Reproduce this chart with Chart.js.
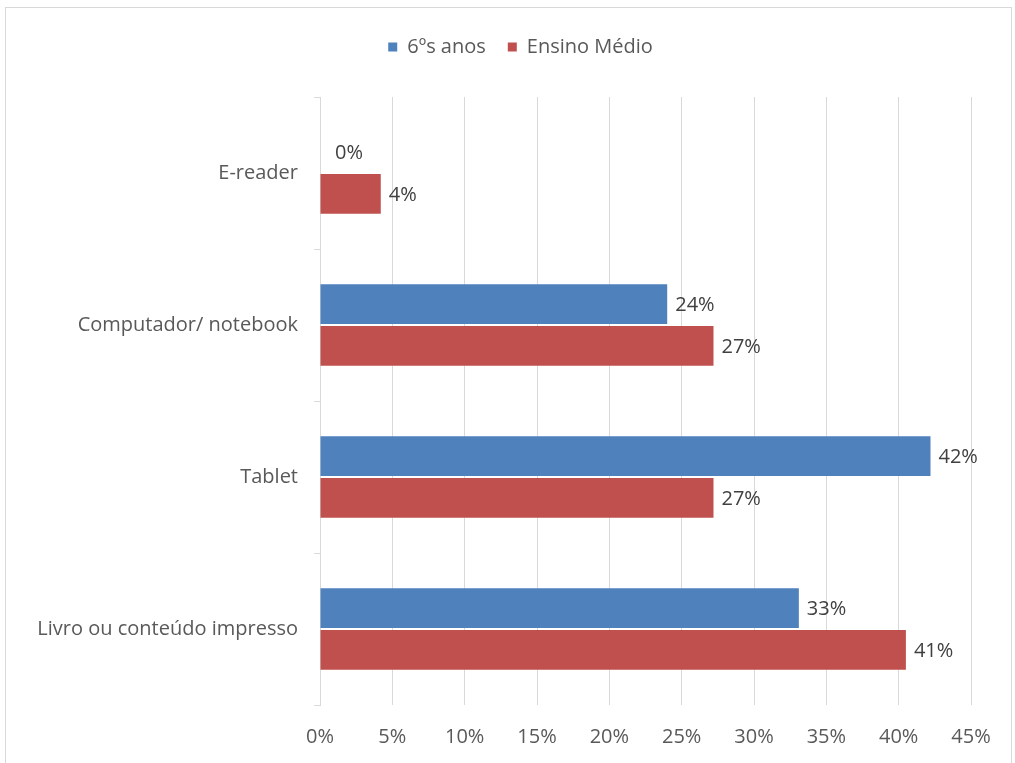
<!doctype html>
<html lang="pt">
  <head>
    <meta charset="utf-8">
    <title>Dispositivos</title>
    <style>
      * { margin: 0; padding: 0; }
      body { background: #fff; }
      .chartBox { position: absolute; left: 0; top: 0; width: 1015px; height: 763px; }
    </style>
  </head>
  <body>
    <div class="chartBox">
      <canvas id="myChart" width="1015" height="763"></canvas>
    </div>
    <script src="https://cdn.jsdelivr.net/npm/chart.js/dist/chart.umd.min.js"></script>
    <script>
    // setup
    const categories = ['E-reader', 'Computador/ notebook', 'Tablet', 'Livro ou conteúdo impresso'];
    const sextoAnos = [0, 24.0, 42.2, 33.1];
    const ensinoMedio = [4.2, 27.2, 27.2, 40.5];
    const xTicks = [0, 5, 10, 15, 20, 25, 30, 35, 40, 45];

    const FONT = "'Open Sans', sans-serif";
    const GREY = '#595959';
    const SIZE = 20;

    // data labels at bar ends
    const barLabels = {
      id: 'barLabels',
      afterDatasetsDraw(chart) {
        const ctx = chart.ctx;
        ctx.save();
        ctx.font = SIZE + 'px ' + FONT;
        ctx.fillStyle = '#404040';
        ctx.textBaseline = 'middle';
        ctx.textAlign = 'left';
        chart.data.datasets.forEach((ds, i) => {
          chart.getDatasetMeta(i).data.forEach((bar, j) => {
            const v = ds.data[j];
            const x = v === 0 ? bar.x + 15 : bar.x + 8;
            ctx.fillText(Math.round(v) + '%', x, bar.y + 1);
          });
        });
        ctx.restore();
      }
    };

    // light frame around the chart
    const frame = {
      id: 'frame',
      beforeDraw(chart) {
        const ctx = chart.ctx;
        ctx.save();
        ctx.strokeStyle = '#D9D9D9';
        ctx.lineWidth = 1;
        ctx.strokeRect(5.5, 7.5, 1006, 800);
        ctx.restore();
      }
    };

    // fixed legend block height, legend nudged right
    const legendHeight = {
      id: 'legendHeight',
      beforeInit(chart) {
        const origFit = chart.legend.fit;
        chart.legend.fit = function () {
          origFit.bind(chart.legend)();
          this.height = 82;
        };
      },
      afterLayout(chart) {
        chart.legend.left += 35;
        chart.legend.right += 35;
      }
    };

    const data = {
      labels: categories,
      datasets: [{
        label: '6ºs anos',
        data: sextoAnos,
        backgroundColor: '#4F81BD'
      }, {
        label: 'Ensino Médio',
        data: ensinoMedio,
        backgroundColor: '#C0504D'
      }]
    };

    // config
    const config = {
      type: 'bar',
      data,
      options: {
        indexAxis: 'y',
        responsive: false,
        animation: false,
        barPercentage: 0.95,
        categoryPercentage: 0.55,
        layout: { padding: { top: 15, right: 44, bottom: 0, left: 0 } },
        plugins: {
          legend: {
            position: 'top',
            labels: {
              font: { family: FONT, size: SIZE },
              color: GREY,
              boxWidth: 9,
              boxHeight: 9,
              padding: 22
            }
          },
          tooltip: { enabled: false }
        },
        scales: {
          x: {
            min: 0,
            max: 45,
            afterBuildTicks(scale) { scale.ticks = xTicks.map(v => ({ value: v })); },
            afterFit(scale) { scale.height = 58; },
            ticks: {
              font: { family: FONT, size: SIZE },
              color: GREY,
              padding: 20,
              callback: v => v + '%'
            },
            grid: { color: '#D9D9D9', drawTicks: false },
            border: { display: false }
          },
          y: {
            afterFit(scale) { scale.width = 320; },
            ticks: {
              font: { family: FONT, size: SIZE },
              color: GREY,
              padding: 16
            },
            grid: { drawOnChartArea: false, drawTicks: true, tickLength: 6, color: '#D9D9D9', offset: true },
            border: { display: true, color: '#D9D9D9' }
          }
        }
      },
      plugins: [frame, legendHeight, barLabels]
    };

    // render init block
    const ctx = document.getElementById('myChart');
    const myChart = new Chart(ctx, config);
    </script>
  </body>
</html>
